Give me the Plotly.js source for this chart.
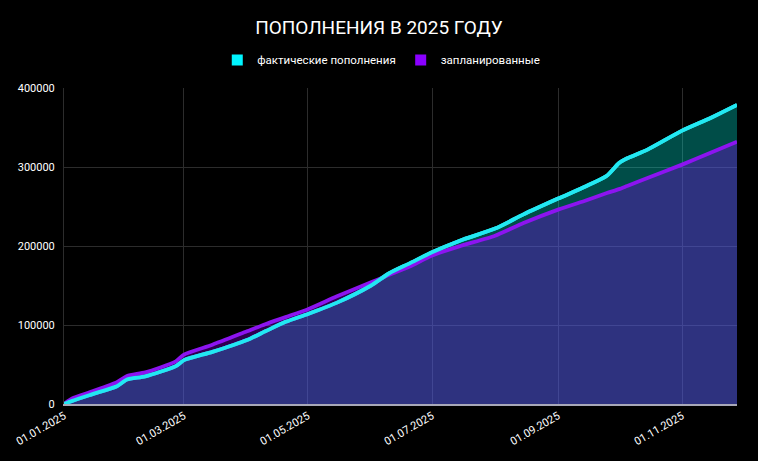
<!DOCTYPE html>
<html>
<head>
<meta charset="utf-8">
<script src="https://cdn.plot.ly/plotly-3.0.1.min.js"></script>
<style>
	html, body {margin: 0; padding: 0; background: #000;}
	#chart {width: 758px; height: 461px;}
</style>
</head>
<body>
<div id="chart"></div>
<script>
// dates of the points
const dates = [
	'2025-01-01', '2025-01-05', '2025-01-15', '2025-01-27', '2025-02-01', '2025-02-10',
	'2025-02-25', '2025-03-01', '2025-03-15', '2025-04-01', '2025-04-10', '2025-04-20',
	'2025-05-01', '2025-05-15', '2025-06-01', '2025-06-10', '2025-06-20', '2025-07-01',
	'2025-07-15', '2025-08-01', '2025-08-15', '2025-09-01', '2025-09-15', '2025-09-25',
	'2025-10-01', '2025-10-05', '2025-10-15', '2025-11-01', '2025-11-15', '2025-11-28'
];
// фактические пополнения
const actual = [
	0, 4000, 12500, 22500, 31000, 35000,
	48000, 55500, 66000, 81000, 92000, 104000,
	114000, 128000, 150000, 165500, 178000, 192000,
	207000, 222000, 240000, 260000, 276000, 289000,
	305000, 311000, 322000, 346000, 362000, 378500
];
// запланированные
const planned = [
	0, 7000, 16000, 27500, 35500, 40000,
	54000, 62500, 75000, 92000, 101000, 110000,
	120000, 136000, 154000, 163500, 174000, 188000,
	200000, 213000, 229000, 246000, 258000, 267000,
	272000, 276000, 286000, 303000, 318000, 332000
];
const names = ['фактические пополнения', 'запланированные'];
const yTicks = [0, 100000, 200000, 300000, 400000];

const cyan = '#22e8f2';
const purple = '#8c14f0';
const font = 'Roboto, "Liberation Sans", sans-serif';

let data = [
	{
		x: dates, y: actual, mode: 'lines', fill: 'tozeroy',
		fillcolor: 'rgba(0,255,240,0.30)',
		line: {color: cyan, width: 3.8, shape: 'spline', smoothing: 0.6},
		showlegend: false
	},
	{
		x: dates, y: planned, mode: 'lines', fill: 'tozeroy',
		fillcolor: 'rgba(135,0,235,0.34)',
		line: {color: purple, width: 3.8, shape: 'spline', smoothing: 0.6},
		showlegend: false
	},
	// cyan line again so it sits above the purple one
	{
		x: dates, y: actual, mode: 'lines',
		line: {color: cyan, width: 3.8, shape: 'spline', smoothing: 0.6},
		showlegend: false
	},
	{
		x: [null], y: [null], mode: 'markers', name: names[0],
		marker: {symbol: 'square', size: 11, color: '#00f5ff'}
	},
	{
		x: [null], y: [null], mode: 'markers', name: names[1],
		marker: {symbol: 'square', size: 11, color: '#8a00ff'}
	}
];

let layout = {
	width: 758,
	height: 461,
	paper_bgcolor: '#000',
	plot_bgcolor: '#000',
	font: {family: font, color: '#fff', size: 11},
	margin: {l: 64, r: 21, t: 88, b: 57},
	title: {
		text: 'ПОПОЛНЕНИЯ В 2025 ГОДУ',
		x: 0.5, xanchor: 'center', y: 0.94, yanchor: 'middle',
		font: {family: font, size: 19, color: '#fff'}
	},
	legend: {
		orientation: 'h',
		xref: 'container', yref: 'container',
		x: 0.503, xanchor: 'center',
		y: 0.87, yanchor: 'middle',
		font: {size: 11.5, color: '#fff'},
		itemwidth: 30
	},
	xaxis: {
		type: 'date',
		range: ['2025-01-01', '2025-11-28'],
		tick0: '2025-01-01',
		dtick: 'M2',
		tickformat: '%d.%m.%Y',
		tickangle: -30,
		tickfont: {size: 11, color: '#fff'},
		showgrid: true,
		gridcolor: '#2c2c2c',
		showline: true,
		linecolor: '#a8a8b8',
		linewidth: 1.5,
		zeroline: false,
		fixedrange: true
	},
	yaxis: {
		range: [0, 400000],
		tickvals: yTicks,
		ticktext: yTicks.map(String),
		tickfont: {size: 11, color: '#fff'},
		showgrid: true,
		gridcolor: '#2c2c2c',
		showline: true,
		linecolor: '#2c2c2c',
		zeroline: false,
		ticklen: 6,
		ticks: 'outside',
		tickcolor: '#000',
		fixedrange: true
	},
	hovermode: false
};

Plotly.newPlot('chart', data, layout, {displayModeBar: false, staticPlot: true});
</script>
</body>
</html>
